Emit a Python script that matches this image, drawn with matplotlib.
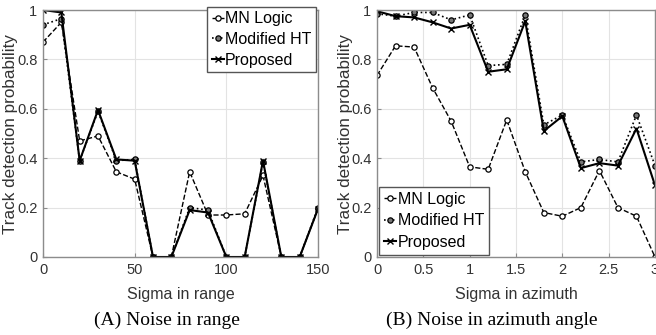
import matplotlib
matplotlib.use('Agg')
import matplotlib.pyplot as plt

# Noise in range
sigma_range = [0, 10, 20, 30, 40, 50, 60, 70, 80, 90, 100, 110, 120, 130, 140, 150]
mn_range = [0.87, 0.95, 0.47, 0.49, 0.345, 0.315, 0, 0, 0.345, 0.17, 0.17, 0.175, 0.33, 0, 0, 0.195]
mht_range = [0.94, 0.965, 0.39, 0.59, 0.39, 0.395, 0, 0, 0.20, 0.19, 0, 0, 0.385, 0, 0, 0.20]
prop_range = [1.0, 0.99, 0.39, 0.595, 0.395, 0.39, 0, 0, 0.19, 0.18, 0, 0, 0.39, 0, 0, 0.195]

# Noise in azimuth
sigma_az = [0, 0.2, 0.4, 0.6, 0.8, 1.0, 1.2, 1.4, 1.6, 1.8, 2.0, 2.2, 2.4, 2.6, 2.8, 3.0]
mn_az = [0.735, 0.855, 0.85, 0.685, 0.55, 0.365, 0.355, 0.555, 0.345, 0.18, 0.165, 0.20, 0.35, 0.20, 0.165, 0.0]
mht_az = [0.985, 0.975, 0.99, 0.99, 0.96, 0.98, 0.775, 0.78, 0.98, 0.535, 0.575, 0.385, 0.395, 0.385, 0.575, 0.37]
prop_az = [0.995, 0.975, 0.97, 0.95, 0.925, 0.94, 0.75, 0.76, 0.955, 0.51, 0.57, 0.36, 0.38, 0.37, 0.52, 0.29]

names = ['MN Logic', 'Modified HT', 'Proposed']
yticks = [0, 0.2, 0.4, 0.6, 0.8, 1]
ytick_labels = ['0', '0.2', '0.4', '0.6', '0.8', '1']

narrow = ['Liberation Sans Narrow', 'Liberation Sans', 'DejaVu Sans']
plt.rcParams['font.family'] = narrow

fig = plt.figure(figsize=(6.56, 3.35), dpi=100)
ax1 = fig.add_axes([43/656, 1-257/335, 275/656, 247/335])
ax2 = fig.add_axes([377/656, 1-257/335, 278/656, 247/335])


def draw(ax, x, mn, mht, prop):
    ax.plot(x, mn, ls='--', lw=1.0, color='black', marker='o', ms=3.8,
            mfc='white', mec='black', mew=0.9, label=names[0])
    ax.plot(x, mht, ls=':', lw=1.2, color='black', marker='o', ms=3.8,
            mfc='#777777', mec='black', mew=0.9, label=names[1])
    ax.plot(x, prop, ls='-', lw=1.5, color='black', marker='x', ms=3.8,
            mew=1.0, label=names[2])
    ax.set_ylim(0, 1)
    ax.set_yticks(yticks)
    ax.set_yticklabels(ytick_labels)
    ax.grid(True, color='#e3e3e3', lw=0.8)
    ax.set_axisbelow(True)
    for s in ax.spines.values():
        s.set_color('#8c8c8c')
        s.set_linewidth(1.0)
    ax.tick_params(direction='in', length=3, color='#8c8c8c', labelsize=10.5,
                   labelcolor='#333333', pad=4)
    ax.set_ylabel('Track detection probability', family='Liberation Sans',
                  fontsize=12.3, color='#333333')


draw(ax1, sigma_range, mn_range, mht_range, prop_range)
ax1.set_xlim(0, 150)
ax1.set_xticks([0, 50, 100, 150])
ax1.set_xlabel('Sigma in range', fontsize=11.5, color='#333333')
ax1.xaxis.set_label_coords(0.5, -0.12)
ax1.yaxis.set_label_coords(-0.091, 0.5)
ax1.legend(loc='upper right', bbox_to_anchor=(1.0, 1.02), fontsize=11.5,
           handlelength=0.75, handletextpad=0.1, labelspacing=0.35,
           borderpad=0.3, borderaxespad=0.1, fancybox=False, framealpha=1,
           edgecolor='#555555')

draw(ax2, sigma_az, mn_az, mht_az, prop_az)
ax2.set_xlim(0, 3)
ax2.set_xticks([0, 0.5, 1, 1.5, 2, 2.5, 3])
ax2.set_xticklabels(['0', '0.5', '1', '1.5', '2', '2.5', '3'])
ax2.set_xlabel('Sigma in azimuth', fontsize=11.5, color='#333333')
ax2.xaxis.set_label_coords(0.5, -0.12)
ax2.yaxis.set_label_coords(-0.086, 0.5)
ax2.legend(loc='lower left', bbox_to_anchor=(0.0, 0.0), fontsize=11.5,
           handlelength=0.75, handletextpad=0.1, labelspacing=0.4,
           borderpad=0.3, borderaxespad=0.15, fancybox=False, framealpha=1,
           edgecolor='#555555')

fig.text(167/656, 1-320/335, '(A) Noise in range', ha='center', va='center',
         family='Liberation Serif', fontsize=14)
fig.text(492/656, 1-320/335, '(B) Noise in azimuth angle', ha='center', va='center',
         family='Liberation Serif', fontsize=14)

fig.savefig('out.png', dpi=100)
